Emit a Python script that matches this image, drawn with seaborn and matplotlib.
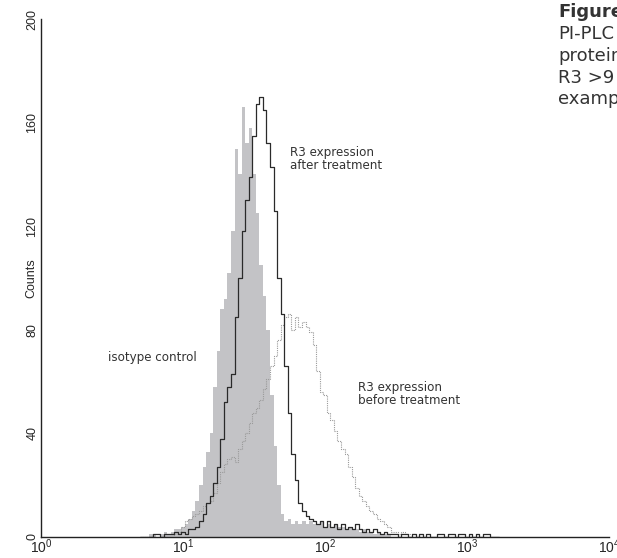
import numpy as np
import matplotlib
matplotlib.use("Agg")
import matplotlib.pyplot as plt
import seaborn as sns
from matplotlib.ticker import FixedLocator, NullFormatter

# Channel axis: log10 bin centres (0.025-decade channels starting at 10^0.7)
log_start = 0.70
log_step = 0.025

isotype = [0, 0, 0, 1, 1, 0, 1, 2, 1, 2,
           3, 3, 4, 5, 7, 10, 14, 20, 27, 33,
           40, 58, 72, 88, 92, 102, 118, 150, 140, 166,
           152, 158, 140, 125, 105, 93, 80, 55, 35, 20,
           9, 6, 7, 5, 6, 5, 6, 5, 6, 5,
           5, 6, 4, 5, 4, 5, 4, 4, 3, 4,
           3, 3, 2, 3, 2, 2, 1, 2, 1, 1,
           1, 0, 0, 0, 0, 0, 0, 0, 0, 0]

after = [0, 0, 0, 0, 1, 1, 0, 1, 1, 1,
         2, 1, 2, 1, 3, 3, 4, 6, 9, 13,
         16, 21, 27, 38, 52, 58, 63, 85, 100, 118,
         130, 139, 155, 167, 170, 165, 152, 143, 126, 100,
         86, 66, 48, 32, 22, 13, 10, 8, 7, 6,
         5, 6, 4, 6, 4, 5, 3, 5, 3, 4,
         3, 5, 3, 2, 3, 2, 3, 2, 1, 2,
         1, 1, 1, 0, 1, 1, 0, 1, 0, 1,
         0, 1, 0, 0, 1, 1, 0, 1, 1, 0,
         1, 1, 0, 1, 0, 1, 0, 1, 1, 0,
         0, 0]

before = [0, 0, 0, 0, 0, 0, 0, 0, 0, 0,
          1, 2, 4, 6, 7, 8, 9, 10, 12, 13,
          14, 17, 21, 25, 28, 30, 31, 29, 34, 37,
          40, 44, 48, 50, 53, 57, 61, 66, 70, 76,
          82, 85, 86, 80, 85, 81, 83, 81, 79, 74,
          64, 56, 55, 48, 45, 41, 37, 34, 32, 27,
          23, 19, 16, 14, 12, 10, 9, 7, 6, 5,
          4, 2, 2, 1, 2, 1, 1, 1, 0, 1,
          0, 0]

x_ticks = [1, 10, 100, 1000, 10000]
x_tick_labels = ["$10^{0}$", "$10^{1}$", "$10^{2}$", "$10^{3}$", "$10^{4}$"]
y_ticks = [0, 40, 80, 120, 160, 200]


def channels(n):
    return 10 ** (log_start + log_step * np.arange(n))


sns.set_style("white")
plt.rcParams["font.family"] = ["DejaVu Sans"]
plt.rcParams["mathtext.fontset"] = "custom"
plt.rcParams["mathtext.rm"] = "Liberation Sans"
plt.rcParams["mathtext.it"] = "Liberation Sans"

fig = plt.figure(figsize=(6.17, 5.58), dpi=100)
ax = fig.add_axes([41 / 617, 21 / 558, 568 / 617, 518 / 558])

xi = channels(len(isotype))
ax.fill_between(xi, isotype, step="mid", color="#c3c3c6", linewidth=0, zorder=1)

sns.lineplot(x=channels(len(before)), y=before, ax=ax, estimator=None,
             drawstyle="steps-mid", color="#9a9a9a", linestyle=(0, (1, 1)),
             linewidth=0.8, zorder=2)
sns.lineplot(x=channels(len(after)), y=after, ax=ax, estimator=None,
             drawstyle="steps-mid", color="#2a2a2a", linewidth=0.9, zorder=3)

ax.set_xscale("log")
ax.set_xlim(1, 10000)
ax.set_ylim(0, 200)

for s in ["top", "right"]:
    ax.spines[s].set_visible(False)
for s in ["left", "bottom"]:
    ax.spines[s].set_color("#222222")
    ax.spines[s].set_linewidth(1.0)

ax.xaxis.set_major_locator(FixedLocator(x_ticks))
ax.set_xticklabels(x_tick_labels, fontsize=10, family="Liberation Sans")
minor = [m * d for d in [1, 10, 100, 1000] for m in range(2, 10)]
ax.xaxis.set_minor_locator(FixedLocator(minor))
ax.xaxis.set_minor_formatter(NullFormatter())

ax.set_yticks(y_ticks)
ax.set_yticklabels([str(v) for v in y_ticks], rotation=90, va="center",
                   fontsize=9, family="Liberation Sans")
ax.yaxis.set_minor_locator(FixedLocator(list(range(0, 201, 8))))

ax.tick_params(axis="both", which="major", direction="in", length=3,
               width=0.7, color="#444444", pad=2)
ax.tick_params(axis="both", which="minor", direction="in", length=1.5,
               width=0.5, color="#777777")
ax.tick_params(axis="x", which="major", pad=0.5)

ax.set_xlabel("")
ax.set_ylabel("Counts", fontsize=9, family="Liberation Sans")
ax.yaxis.set_label_coords(-0.006, 0.5)

ann = dict(fontsize=8.6, color="#333333", va="top", ha="left")
fig.text(290 / 617, 1 - 146 / 558, "R3 expression\nafter treatment",
         linespacing=1.0, **ann)
fig.text(108 / 617, 1 - 351 / 558, "isotype control", **ann)
fig.text(358 / 617, 1 - 381 / 558, "R3 expression\nbefore treatment",
         linespacing=1.0, **ann)

side = dict(fontsize=13, color="#333333", va="top", ha="left")
fig.text(558 / 617, 1 - 3 / 558, "Figure", fontweight="bold", **side)
fig.text(558 / 617, 1 - 25 / 558, "PI-PLC", **side)
fig.text(558 / 617, 1 - 47 / 558, "protein", **side)
fig.text(558 / 617, 1 - 69 / 558, "R3 >9", **side)
fig.text(558 / 617, 1 - 90 / 558, "example", **side)

fig.savefig("out.png", dpi=100)
